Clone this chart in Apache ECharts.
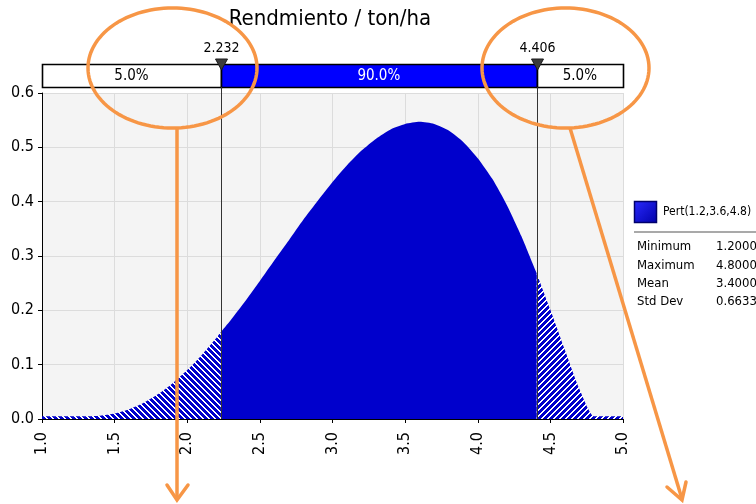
<!DOCTYPE html>
<html>
<head>
<meta charset="utf-8">
<script src="https://cdn.jsdelivr.net/npm/echarts@6/dist/echarts.min.js"></script>
<style>
html,body{margin:0;padding:0;background:#ffffff;}
#chart{width:756px;height:504px;}
</style>
</head>
<body>
<div id="chart"></div>
<script>
// ---------------- data ----------------
const titleText = 'Rendmiento / ton/ha';
const xValues = [1.0,1.1,1.2,1.3,1.4,1.5,1.6,1.7,1.8,1.9,2.0,2.1,2.2,2.3,2.4,2.5,2.6,2.7,2.8,2.9,3.0,
                 3.1,3.2,3.3,3.4,3.5,3.6,3.7,3.8,3.9,4.0,4.1,4.2,4.3,4.4,4.5,4.6,4.7,4.8,4.9,5.0];
const density = [0.005,0.005,0.005,0.005,0.006,0.010,0.018,0.030,0.046,0.066,0.090,0.118,0.149,0.182,0.217,0.254,0.292,0.329,0.367,0.402,0.436,
                 0.467,0.494,0.516,0.533,0.543,0.547,0.543,0.531,0.510,0.480,0.442,0.394,0.337,0.272,0.201,0.127,0.055,0.005,0.005,0.005];
const pctValues = [2.232, 4.406];
const pctLabels = ['2.232', '4.406'];
const pctDensity = [0.160, 0.268];
const segStart = [1.0, 2.232, 4.406];
const segEnd = [2.232, 4.406, 5.0];
const segLabels = ['5.0%', '90.0%', '5.0%'];
const xTickLabels = ['1.0','1.5','2.0','2.5','3.0','3.5','4.0','4.5','5.0'];
const yTickLabels = ['0.0','0.1','0.2','0.3','0.4','0.5','0.6'];
const legendName = 'Pert(1.2,3.6,4.8)';
const statLabels = ['Minimum', 'Maximum', 'Mean', 'Std Dev'];
const statValues = ['1.2000', '4.8000', '3.4000', '0.6633'];

// ---------------- styling helpers ----------------
const FONT = '"DejaVu Sans Condensed", "DejaVu Sans", sans-serif';
const ORANGE = '#f79646';

function hatch(dir) {
  const c = document.createElement('canvas');
  c.width = 6; c.height = 6;
  const g = c.getContext('2d');
  g.fillStyle = '#0000cc';
  g.fillRect(0, 0, 6, 6);
  g.fillStyle = '#ffffff';
  for (let i = 0; i < 6; i++) {
    const x = dir > 0 ? i : 5 - i;
    g.fillRect(x, i, 1, 1);
    g.fillRect((x + 1) % 6, i, 1, 1);
  }
  return c;
}

const pts = xValues.map((x, i) => [x, density[i]]);
const leftData = pts.filter(p => p[0] < pctValues[0]).concat([[pctValues[0], pctDensity[0]]]);
const midData = [[pctValues[0], pctDensity[0]]]
  .concat(pts.filter(p => p[0] > pctValues[0] && p[0] < pctValues[1]))
  .concat([[pctValues[1], pctDensity[1]]]);
const rightData = [[pctValues[1], pctDensity[1]]].concat(pts.filter(p => p[0] > pctValues[1]));

function areaSeries(data, fill) {
  return {
    type: 'line', data: data, showSymbol: false, symbol: 'none', smooth: 0.2,
    lineStyle: { width: 0, opacity: 0 },
    areaStyle: { color: fill, opacity: 1 },
    silent: true, z: 2, animation: false
  };
}

function ellipsePts(cx, cy, rx, ry) {
  const out = [];
  for (let k = 0; k < 120; k++) {
    const a = k / 120 * Math.PI * 2;
    out.push([cx + rx * Math.cos(a), cy + ry * Math.sin(a)]);
  }
  return out;
}

const chart = echarts.init(document.getElementById('chart'), null, { renderer: 'canvas' });

const option = {
  animation: false,
  backgroundColor: '#ffffff',
  textStyle: { fontFamily: FONT },
  grid: { left: 42, right: 133, top: 93, bottom: 85, show: true, backgroundColor: '#f4f4f4', borderWidth: 0 },
  xAxis: {
    type: 'value', min: 1, max: 5, interval: 0.5,
    axisLine: { show: true, onZero: false, lineStyle: { color: '#000', width: 1 } },
    axisTick: { show: true, length: 4, lineStyle: { color: '#000' } },
    splitLine: { show: true, lineStyle: { color: '#dcdcdc', width: 1 } },
    axisLabel: {
      rotate: 90, fontSize: 16, color: '#000', margin: 13, fontFamily: FONT,
      formatter: v => xTickLabels[Math.round((v - 1) / 0.5)]
    }
  },
  yAxis: {
    type: 'value', min: 0, max: 0.6, interval: 0.1,
    axisLine: { show: true, lineStyle: { color: '#000', width: 1 } },
    axisTick: { show: true, length: 4, lineStyle: { color: '#000' } },
    splitLine: { show: true, lineStyle: { color: '#dcdcdc', width: 1 } },
    axisLabel: {
      fontSize: 16, color: '#000', margin: 8, fontFamily: FONT,
      formatter: v => yTickLabels[Math.round(v / 0.1)]
    }
  },
  series: [
    areaSeries(leftData, { image: hatch(1), repeat: 'repeat' }),
    areaSeries(midData, '#0000cc'),
    areaSeries(rightData, { image: hatch(-1), repeat: 'repeat' }),
    {
      type: 'custom', silent: true, z: 10, animation: false,
      data: segStart.map((s, i) => [s, 0, segEnd[i], i]),
      encode: { x: [0, 2], y: 1 },
      renderItem: function (params, api) {
        const a = api.coord([api.value(0), 0.6]);
        const b = api.coord([api.value(2), 0.6]);
        const i = api.value(3);
        const top = Math.round(a[1]) - 29, h = 23;
        const mid = i === 1;
        return {
          type: 'group', children: [
            { type: 'rect', shape: { x: Math.round(a[0]) + 0.5, y: top + 0.5, width: Math.round(b[0]) - Math.round(a[0]), height: h },
              style: { fill: mid ? '#0000ff' : '#ffffff', stroke: '#000', lineWidth: 1.6 } },
            { type: 'text', style: { text: segLabels[i], x: (a[0] + b[0]) / 2, y: top + h / 2 + 1,
              align: 'center', verticalAlign: 'middle', fill: mid ? '#ffffff' : '#000000',
              font: '15px ' + FONT } }
          ]
        };
      }
    },
    {
      type: 'custom', silent: true, z: 11, animation: false,
      data: pctValues.map((v, i) => [v, pctDensity[i], i]),
      renderItem: function (params, api) {
        const x = Math.round(api.coord([api.value(0), 0])[0]) + 0.5;
        const yb = api.coord([1, 0])[1];
        const yt = Math.round(api.coord([1, 0.6])[1]);
        const i = api.value(2);
        return {
          type: 'group', children: [
            { type: 'line', shape: { x1: x, y1: yt - 6, x2: x, y2: yb }, style: { stroke: '#333333', lineWidth: 1 } },
            { type: 'polygon', shape: { points: [[x - 6, yt - 34], [x + 6, yt - 34], [x, yt - 23]] },
              style: { fill: '#3c3c3c', stroke: '#1a1a1a', lineWidth: 1 } },
            { type: 'text', style: { text: pctLabels[i], x: x, y: yt - 45, align: 'center', verticalAlign: 'middle',
              fill: '#000', font: '14px ' + FONT } }
          ]
        };
      }
    }
  ],
  graphic: [
    { type: 'text', x: 330, y: 19, z: 20, style: { text: titleText, align: 'center', verticalAlign: 'middle',
      fill: '#000', font: '22px ' + FONT } },
    { type: 'rect', shape: { x: 634.5, y: 201.5, width: 22, height: 21 }, z: 20,
      style: { stroke: '#00006b', lineWidth: 1.5,
        fill: new echarts.graphic.LinearGradient(0, 0, 1, 1, [{ offset: 0, color: '#2a2aff' }, { offset: 1, color: '#0000a8' }]) } },
    { type: 'text', x: 663, y: 212, z: 20, style: { text: legendName, align: 'left', verticalAlign: 'middle', fill: '#000', font: '12px ' + FONT } },
    { type: 'line', shape: { x1: 634, y1: 232, x2: 756, y2: 232 }, z: 20, style: { stroke: '#8c8c8c', lineWidth: 1.5 } },
    ...statLabels.map((s, i) => ({ type: 'text', x: 637, y: 247 + i * 18.3, z: 20,
      style: { text: s, align: 'left', verticalAlign: 'middle', fill: '#000', font: '13px ' + FONT } })),
    ...statValues.map((s, i) => ({ type: 'text', x: 716, y: 247 + i * 18.3, z: 20,
      style: { text: s, align: 'left', verticalAlign: 'middle', fill: '#000', font: '13px ' + FONT } })),
    // orange annotations
    { type: 'polygon', z: 30, shape: { points: ellipsePts(172.5, 68, 84.5, 60) },
      style: { fill: 'none', stroke: ORANGE, lineWidth: 3.5 } },
    { type: 'polygon', z: 30, shape: { points: ellipsePts(565.5, 68, 83.5, 60) },
      style: { fill: 'none', stroke: ORANGE, lineWidth: 3.5 } },
    { type: 'line', z: 30, shape: { x1: 177, y1: 128, x2: 177, y2: 500 }, style: { stroke: ORANGE, lineWidth: 3.5 } },
    { type: 'polyline', z: 30, shape: { points: [[167, 485], [177, 500], [188, 485]] },
      style: { fill: 'none', stroke: ORANGE, lineWidth: 3.5, lineCap: 'round', lineJoin: 'miter' } },
    { type: 'line', z: 30, shape: { x1: 570, y1: 128, x2: 682, y2: 499 }, style: { stroke: ORANGE, lineWidth: 3.5 } },
    { type: 'polyline', z: 30, shape: { points: [[667, 487], [682, 500], [686, 482]] },
      style: { fill: 'none', stroke: ORANGE, lineWidth: 3.5, lineCap: 'round', lineJoin: 'miter' } }
  ]
};
chart.setOption(option);
</script>
</body>
</html>
